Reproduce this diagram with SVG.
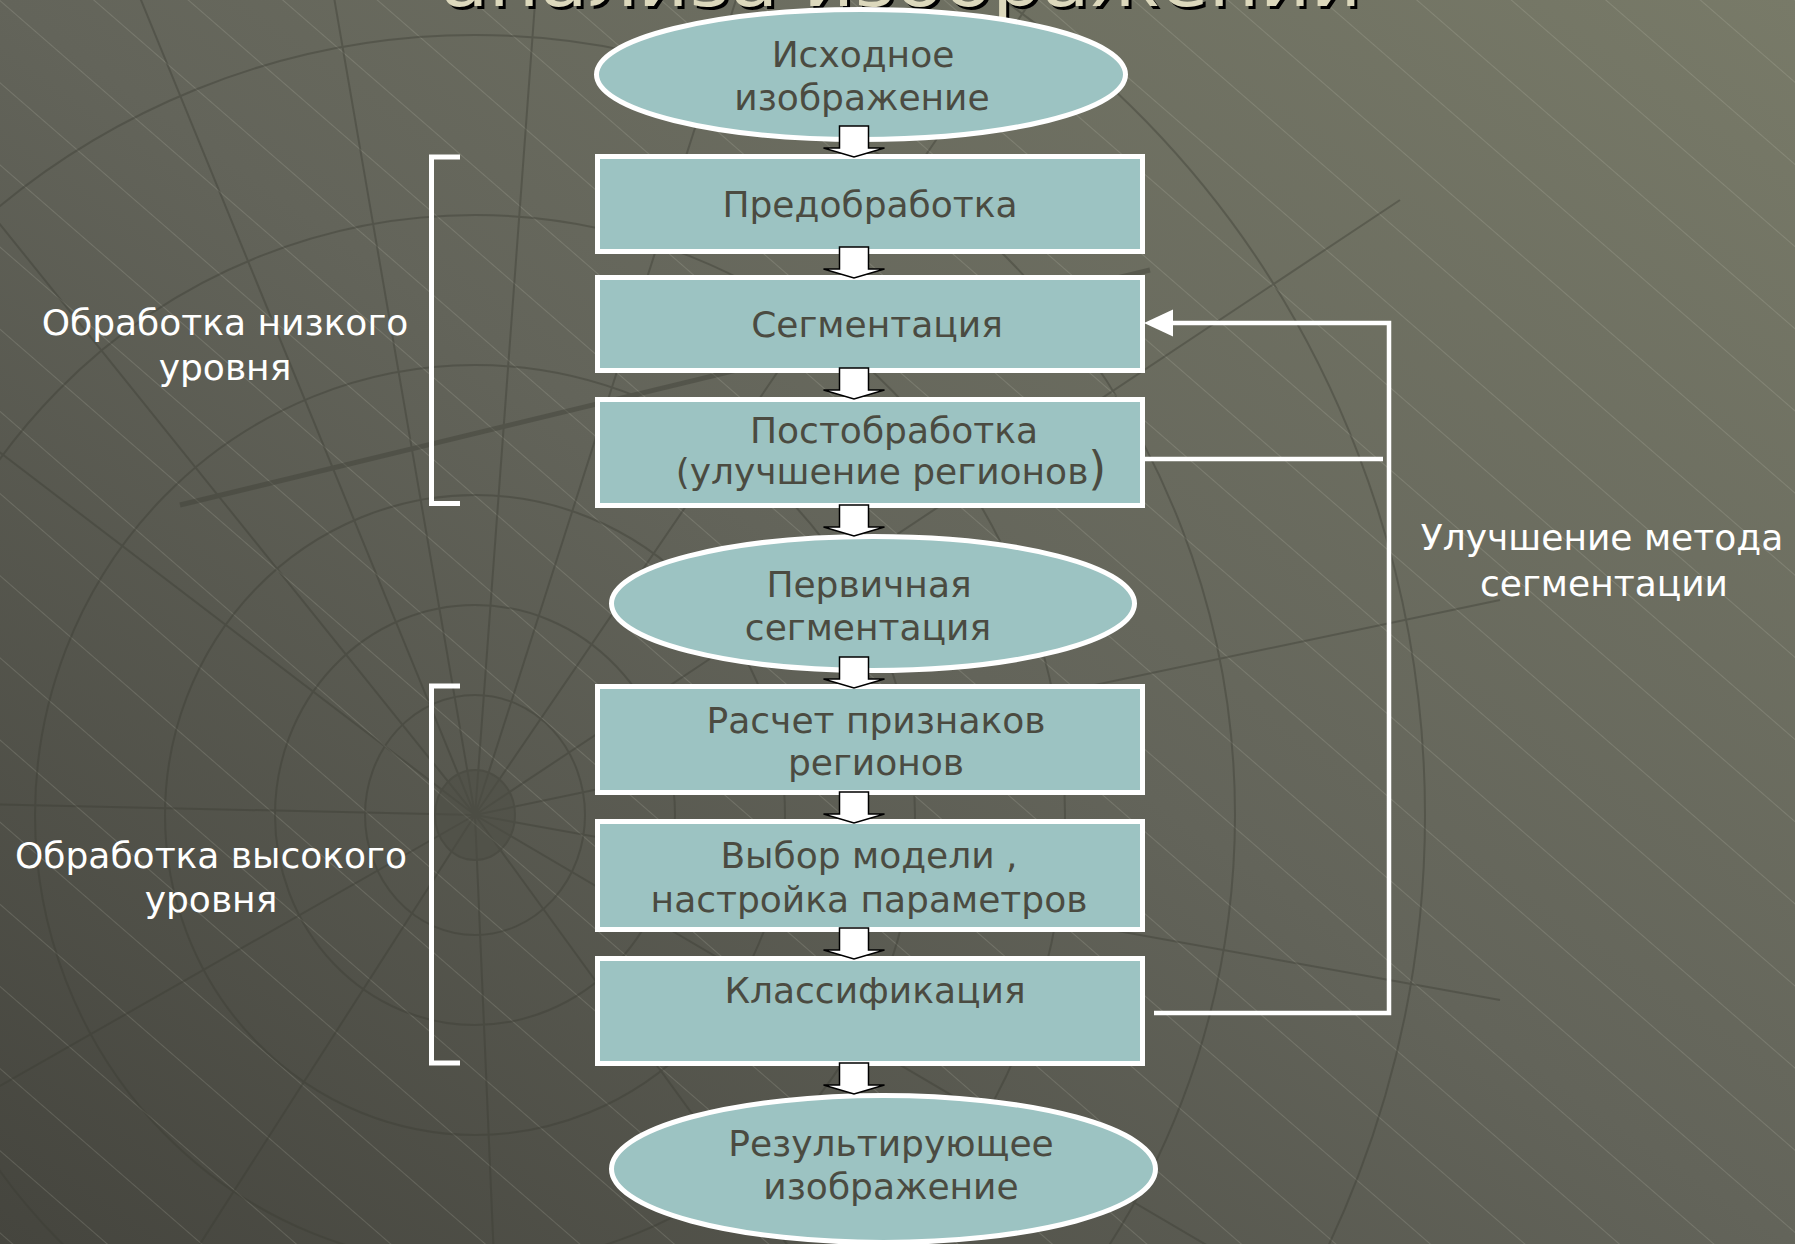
<svg xmlns="http://www.w3.org/2000/svg" width="1795" height="1244" viewBox="0 0 1795 1244">
<defs>
<linearGradient id="bg" x1="1" y1="0" x2="0" y2="1">
<stop offset="0" stop-color="#787a68"/>
<stop offset="0.5" stop-color="#63645a"/>
<stop offset="1" stop-color="#45453e"/>
</linearGradient>
<pattern id="hatch" width="80" height="62" patternUnits="userSpaceOnUse" patternTransform="rotate(41)">
<line x1="0" y1="0.5" x2="80" y2="0.5" stroke="#e0e0d0" stroke-width="1"/>
</pattern>
<path id="barrow" d="M-14.5,0 H14.5 V22 H30.5 L0,31 L-30.5,22 H-14.5 Z"/>
</defs>
<style>
.box{fill:#9cc3c2;stroke:#ffffff;stroke-width:5}
.t{font-family:"DejaVu Sans","Verdana",sans-serif;font-size:36px;fill:#4b4b41;text-anchor:middle}
.lbl{font-family:"DejaVu Sans","Verdana",sans-serif;font-size:36px;fill:#ffffff;text-anchor:middle}
.ba{fill:#ffffff;stroke:#000000;stroke-width:1.5;stroke-linejoin:miter}
.conn{fill:none;stroke:#ffffff;stroke-width:4.5}
.mesh{fill:none;stroke:#3c3d34;stroke-width:2;opacity:0.4}
</style>
<g id="background">
<rect x="0" y="0" width="1795" height="1244" fill="url(#bg)"/>
<rect x="0" y="0" width="1795" height="1244" fill="url(#hatch)" opacity="0.16"/>
<g class="mesh">
<ellipse cx="475" cy="815" rx="40" ry="45" fill="#4a4b42"/>
<ellipse cx="475" cy="815" rx="110" ry="120"/>
<ellipse cx="475" cy="815" rx="200" ry="210"/>
<ellipse cx="475" cy="815" rx="310" ry="320"/>
<ellipse cx="475" cy="815" rx="440" ry="450"/>
<ellipse cx="475" cy="815" rx="590" ry="600"/>
<ellipse cx="475" cy="815" rx="760" ry="780"/>
<ellipse cx="475" cy="815" rx="950" ry="980"/>
<path d="M475,815 L-200,300 M475,815 L-100,100 M475,815 L100,-100 M475,815 L300,-200 M475,815 L550,-200 M475,815 L800,-200 M475,815 L1100,-100 M475,815 L1400,200 M475,815 L1500,600 M475,815 L1500,1000 M475,815 L1300,1300 M475,815 L900,1400 M475,815 L500,1400 M475,815 L100,1400 M475,815 L-200,1200 M475,815 L-200,800"/>
<path d="M180,505 L1150,270" stroke-width="5"/>
</g>
</g>
<g id="title">
<text x="904" y="9" font-family="DejaVu Sans, sans-serif" font-size="70" fill="#000000" text-anchor="middle" textLength="921" lengthAdjust="spacingAndGlyphs">анализа изображений</text>
<text x="901" y="6" font-family="DejaVu Sans, sans-serif" font-size="70" fill="#dcd8bc" text-anchor="middle" textLength="921" lengthAdjust="spacingAndGlyphs">анализа изображений</text>
</g>
<g id="brackets" fill="none" stroke="#ffffff" stroke-width="5">
<path d="M460,157 H431.5 V503.5 H460"/>
<path d="M460,686 H431.5 V1063 H460"/>
</g>
<g id="label-low">
<text class="lbl" x="225" y="335">Обработка низкого</text>
<text class="lbl" x="225" y="380">уровня</text>
</g>
<g id="label-high">
<text class="lbl" x="211" y="868">Обработка высокого</text>
<text class="lbl" x="211" y="912">уровня</text>
</g>
<g id="label-feedback">
<text class="lbl" x="1602" y="550">Улучшение метода</text>
<text class="lbl" x="1604" y="596">сегментации</text>
</g>
<g id="n-source">
<ellipse class="box" cx="861" cy="74.5" rx="264.5" ry="65"/>
<text class="t" x="863" y="67">Исходное</text>
<text class="t" x="862" y="110">изображение</text>
</g>
<g id="n-pre">
<rect class="box" x="597.5" y="156.5" width="545" height="95"/>
<text class="t" x="870" y="217">Предобработка</text>
</g>
<g id="n-seg">
<rect class="box" x="597.5" y="277.5" width="545" height="93"/>
<text class="t" x="877" y="337">Сегментация</text>
</g>
<g id="n-post">
<rect class="box" x="597.5" y="399.5" width="545" height="106"/>
<text class="t" x="894" y="443">Постобработка</text>
<text class="t" x="891" y="484">(улучшение регионов<tspan font-size="46">)</tspan></text>
</g>
<g id="n-primary">
<ellipse class="box" cx="873" cy="603.5" rx="261.5" ry="67"/>
<text class="t" x="869" y="597">Первичная</text>
<text class="t" x="868" y="640">сегментация</text>
</g>
<g id="n-features">
<rect class="box" x="597.5" y="686.5" width="545" height="106"/>
<text class="t" x="876" y="733">Расчет признаков</text>
<text class="t" x="876" y="775">регионов</text>
</g>
<g id="n-model">
<rect class="box" x="597.5" y="821.5" width="545" height="108"/>
<text class="t" x="869" y="868">Выбор модели ,</text>
<text class="t" x="869" y="912">настройка параметров</text>
</g>
<g id="n-class">
<rect class="box" x="597.5" y="958.5" width="545" height="105"/>
<text class="t" x="875" y="1003">Классификация</text>
</g>
<g id="n-result">
<ellipse class="box" cx="883.5" cy="1169" rx="272" ry="73.5"/>
<text class="t" x="891" y="1156">Результирующее</text>
<text class="t" x="891" y="1199">изображение</text>
</g>
<g id="connectors">
<use href="#barrow" class="ba" x="854" y="126"/>
<use href="#barrow" class="ba" x="854" y="247"/>
<use href="#barrow" class="ba" x="854" y="368"/>
<use href="#barrow" class="ba" x="854" y="505"/>
<use href="#barrow" class="ba" x="854" y="657"/>
<use href="#barrow" class="ba" x="854" y="792"/>
<use href="#barrow" class="ba" x="854" y="928"/>
<use href="#barrow" class="ba" x="854" y="1063"/>
<path class="conn" d="M1154,1013 H1389 V323 H1172"/>
<path d="M1144,323 L1173,309.5 L1173,336.5 Z" fill="#ffffff"/>
<path class="conn" d="M1145,459 H1383"/>
</g>
</svg>
